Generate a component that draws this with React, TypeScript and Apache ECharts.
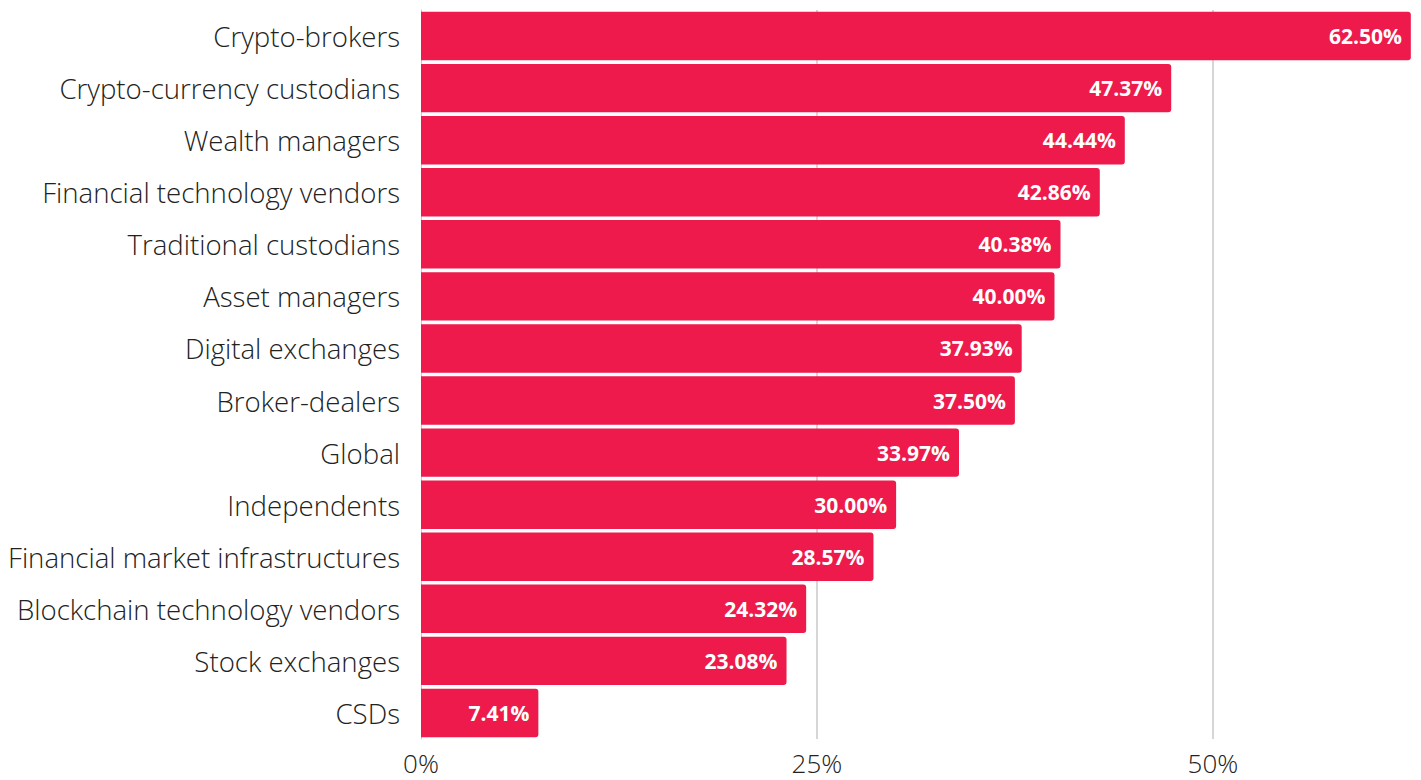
import React, { useEffect, useRef } from "react";
import * as echarts from "echarts";

const categories = [
  "Crypto-brokers",
  "Crypto-currency custodians",
  "Wealth managers",
  "Financial technology vendors",
  "Traditional custodians",
  "Asset managers",
  "Digital exchanges",
  "Broker-dealers",
  "Global",
  "Independents",
  "Financial market infrastructures",
  "Blockchain technology vendors",
  "Stock exchanges",
  "CSDs",
];
const values = [62.5, 47.37, 44.44, 42.86, 40.38, 40.0, 37.93, 37.5, 33.97, 30.0, 28.57, 24.32, 23.08, 7.41];
const gridValues = [25, 50];

export default function App() {
  const ref = useRef<HTMLDivElement>(null);
  useEffect(() => {
    if (!ref.current) return;
    const chart = echarts.init(ref.current, undefined, { renderer: "svg" });
    chart.setOption({
      animation: false,
      textStyle: { fontFamily: "Open Sans" },
      grid: { left: 421, right: 7, top: 10, bottom: 41, containLabel: false },
      xAxis: {
        type: "value",
        min: 0,
        max: 62.7,
        interval: 25,
        axisLine: { show: false },
        axisTick: { show: false },
        splitLine: { show: false },
        axisLabel: {
          showMaxLabel: false,
          formatter: (v: number) => `${v}%`,
          fontSize: 26,
          fontWeight: 300,
          color: "#222",
          margin: 11,
          fontFamily: "Open Sans",
        },
      },
      yAxis: {
        type: "category",
        data: categories,
        inverse: true,
        axisLine: { show: true, lineStyle: { color: "#c8c8c8", width: 1 } },
        axisTick: { show: false },
        axisLabel: { fontSize: 27.6, fontWeight: 300, color: "#222", margin: 21, fontFamily: "Open Sans" },
      },
      series: [
        {
          type: "bar",
          data: values,
          barCategoryGap: "7%",
          itemStyle: { color: "#ED1A4B", borderRadius: [0, 3, 3, 0] },
          label: {
            show: true,
            position: "insideRight",
            distance: 9,
            color: "#fff",
            fontWeight: "bold",
            fontSize: 21,
            fontFamily: "Open Sans",
            formatter: (p: any) => `${p.value.toFixed(2)}%`,
          },
          markLine: {
            silent: true,
            symbol: "none",
            label: { show: false },
            lineStyle: { color: "#c8c8c8", type: "solid", width: 1.5 },
            data: gridValues.map((v) => ({ xAxis: v })),
            z: 0,
          },
          z: 2,
        },
      ],
    });
    return () => chart.dispose();
  }, []);
  return (
    <div
      ref={ref}
      style={{ position: "fixed", left: 0, top: 0, width: 1421, height: 780, background: "#fff" }}
    />
  );
}
